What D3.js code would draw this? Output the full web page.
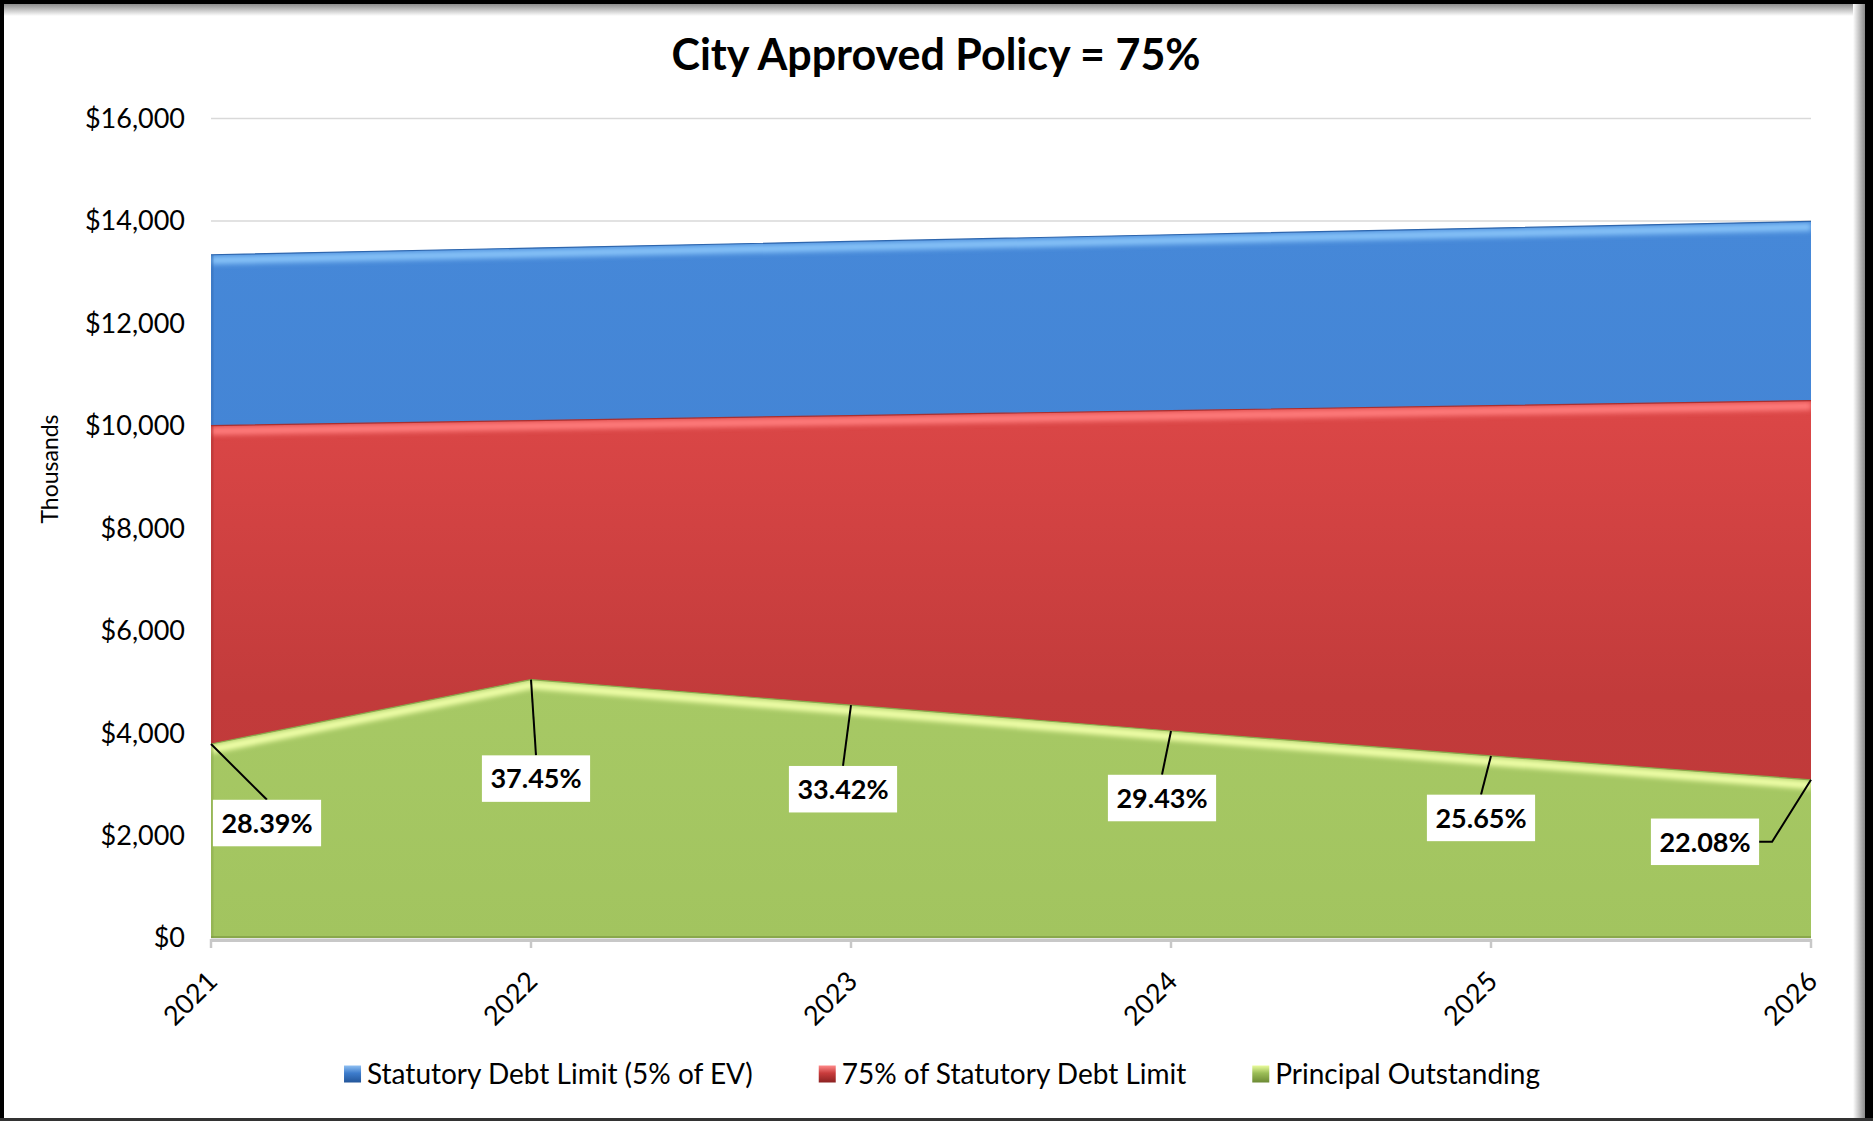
<!DOCTYPE html>
<html>
<head>
<meta charset="utf-8">
<script src="https://cdn.jsdelivr.net/npm/d3@7"></script>
<style>
  body { margin: 0; background: #fff; }
  svg { display: block; font-family: Lato, "Open Sans", sans-serif; }
</style>
</head>
<body>
<div id="chart"></div>
<script>
// values in thousands of dollars
const years = ["2021", "2022", "2023", "2024", "2025", "2026"];
const statutoryLimit = [13340, 13470, 13600, 13730, 13860, 13990];
const policyLimit = [10005, 10103, 10200, 10298, 10395, 10493];
const principal = [3787, 5045, 4545, 4041, 3555, 3089];
const pctLabels = ["28.39%", "37.45%", "33.42%", "29.43%", "25.65%", "22.08%"];
const seriesNames = ["Statutory Debt Limit (5% of EV)", "75% of Statutory Debt Limit", "Principal Outstanding"];
const yTicks = [0, 2000, 4000, 6000, 8000, 10000, 12000, 14000, 16000];

// where each % label box sits relative to its point (layout only)
const labelOffsets = [[56, 79], [5, 99], [-8, 84], [-9, 67], [-10, 62], [-106, 62]];

const W = 1873, H = 1121;
const margin = { top: 118.5, right: 62, bottom: 183, left: 211 };
const width = W - margin.left - margin.right;
const height = H - margin.top - margin.bottom;

const svg = d3.select("#chart").append("svg")
  .attr("width", W)
  .attr("height", H);

const defs = svg.append("defs");

function vGrad(id, stops, horizontal) {
  const g = defs.append("linearGradient").attr("id", id)
    .attr("x1", 0).attr("y1", 0)
    .attr("x2", horizontal ? 1 : 0).attr("y2", horizontal ? 0 : 1);
  stops.forEach(s => g.append("stop").attr("offset", s[0]).attr("stop-color", s[1]));
}

vGrad("fillBlue", [[0, "#4688d8"], [1, "#3f7ecf"]]);
vGrad("fillRed", [[0, "#dc4747"], [0.55, "#c23b3b"], [1, "#bd3838"]]);
vGrad("fillGreen", [[0, "#a7c965"], [1, "#a2c45f"]]);
vGrad("legBlue", [[0, "#8fc0f2"], [0.45, "#3d7ccc"], [1, "#23569a"]]);
vGrad("legRed", [[0, "#ff8a8a"], [0.45, "#c83c3c"], [1, "#8c2222"]]);
vGrad("legGreen", [[0, "#eafc9c"], [0.45, "#9bbd57"], [1, "#6c8a34"]]);
vGrad("frameTop", [[0, "#8c8c8c"], [1, "#ffffff"]]);
vGrad("frameRight", [[0, "#ffffff"], [1, "#8a8a8a"]], true);

defs.append("filter").attr("id", "soft")
  .attr("x", "-5%").attr("y", "-50%").attr("width", "110%").attr("height", "200%")
  .append("feGaussianBlur").attr("stdDeviation", 2.4);

const g = svg.append("g")
  .attr("transform", `translate(${margin.left},${margin.top})`);

const x = d3.scalePoint().domain(years).range([0, width]);
const y = d3.scaleLinear().domain([0, 16000]).range([height, 0]);

// gridlines
g.append("g").selectAll("line")
  .data(yTicks)
  .enter().append("line")
  .attr("x1", 0).attr("x2", width)
  .attr("y1", d => y(d)).attr("y2", d => y(d))
  .attr("stroke", "#d9d9d9")
  .attr("stroke-width", 1.5);

// y labels
g.append("g").selectAll("text")
  .data(yTicks)
  .enter().append("text")
  .attr("x", -26)
  .attr("y", d => y(d))
  .attr("dy", "0.35em")
  .attr("text-anchor", "end")
  .style("font-size", "27px")
  .attr("fill", "#000")
  .text(d => d3.format("$,")(d));

// x axis line + ticks
g.append("line")
  .attr("x1", 0).attr("x2", width)
  .attr("y1", height + 2.5).attr("y2", height + 2.5)
  .attr("stroke", "#c8c8c8").attr("stroke-width", 3);
g.append("g").selectAll("line")
  .data(years)
  .enter().append("line")
  .attr("x1", d => x(d)).attr("x2", d => x(d))
  .attr("y1", height + 1).attr("y2", height + 10)
  .attr("stroke", "#c8c8c8").attr("stroke-width", 2.5);

// x labels
g.append("g").selectAll("text")
  .data(years)
  .enter().append("text")
  .attr("text-anchor", "end")
  .attr("transform", d => `translate(${x(d) + 8},${height + 45}) rotate(-45)`)
  .style("font-size", "27px")
  .text(d => d);

// areas (overlapping, each from zero)
const series = [
  { values: statutoryLimit, fill: "url(#fillBlue)", hi: "#86c2f8", edge: "#2e66ad", dark: "#2c5f9f" },
  { values: policyLimit, fill: "url(#fillRed)", hi: "#ff7d7d", edge: "#a83030", dark: "#8f2828" },
  { values: principal, fill: "url(#fillGreen)", hi: "#f0ffa8", edge: "#8aa84c", dark: "#7a9640" }
];

const area = d3.area()
  .x((d, i) => x(years[i]))
  .y0(height)
  .y1(d => y(d));
const topLine = d3.line()
  .x((d, i) => x(years[i]))
  .y(d => y(d));

series.forEach((s, k) => {
  const clipId = "clip" + k;
  defs.append("clipPath").attr("id", clipId)
    .append("path").attr("d", area(s.values));

  const sg = g.append("g");
  sg.append("path")
    .attr("d", area(s.values))
    .attr("fill", s.fill);

  const inner = sg.append("g").attr("clip-path", `url(#${clipId})`);
  // bevel highlight under the top edge
  inner.append("path")
    .attr("d", topLine(s.values))
    .attr("transform", "translate(0,5.5)")
    .attr("fill", "none")
    .attr("stroke", s.hi)
    .attr("stroke-width", 8)
    .attr("filter", "url(#soft)");
  // darker right side
  inner.append("line")
    .attr("x1", width).attr("x2", width)
    .attr("y1", y(s.values[s.values.length - 1])).attr("y2", height)
    .attr("stroke", s.dark)
    .attr("stroke-width", 9)
    .attr("opacity", 0.6)
    .attr("filter", "url(#soft)");
  // slightly darker left side
  inner.append("line")
    .attr("x1", 0).attr("x2", 0)
    .attr("y1", y(s.values[0])).attr("y2", height)
    .attr("stroke", s.dark)
    .attr("stroke-width", 5)
    .attr("opacity", 0.3);
  // darker bottom
  inner.append("line")
    .attr("x1", 0).attr("x2", width)
    .attr("y1", height).attr("y2", height)
    .attr("stroke", s.dark)
    .attr("stroke-width", 4)
    .attr("opacity", 0.6);

  sg.append("path")
    .attr("d", topLine(s.values))
    .attr("fill", "none")
    .attr("stroke", s.edge)
    .attr("stroke-width", 1.2);
});

// % labels with leader lines
const labelG = g.append("g");
pctLabels.forEach((lab, i) => {
  const px = x(years[i]), py = y(principal[i]);
  const cx = px + labelOffsets[i][0], cy = py + labelOffsets[i][1];
  const lg = labelG.append("g");
  const t = lg.append("text")
    .attr("x", cx).attr("y", cy)
    .attr("dy", "0.36em")
    .attr("text-anchor", "middle")
    .style("font-size", "27px")
    .style("font-weight", "bold")
    .text(lab);
  const bw = t.node().getComputedTextLength() + 17;
  const bh = 46.5;
  lg.insert("rect", "text")
    .attr("x", cx - bw / 2).attr("y", cy - bh / 2)
    .attr("width", bw).attr("height", bh)
    .attr("fill", "#fff");
  let pts;
  if (Math.abs(labelOffsets[i][0]) < bw * 0.75) {
    pts = [[px, py], [cx, cy - bh / 2]];
  } else {
    const edgeX = cx + bw / 2;
    pts = [[px, py], [edgeX + 13, cy], [edgeX, cy]];
  }
  lg.insert("path", "rect")
    .attr("d", d3.line()(pts))
    .attr("fill", "none")
    .attr("stroke", "#000")
    .attr("stroke-width", 2);
});

// y axis title
svg.append("text")
  .attr("transform", `translate(58,469) rotate(-90)`)
  .attr("text-anchor", "middle")
  .style("font-size", "23px")
  .text("Thousands");

// title
svg.append("text")
  .attr("x", 936).attr("y", 70)
  .attr("text-anchor", "middle")
  .style("font-size", "43px")
  .style("font-weight", "bold")
  .text("City Approved Policy = 75%");

// legend
const legendFills = ["url(#legBlue)", "url(#legRed)", "url(#legGreen)"];
const legend = svg.append("g");
let lx = 0;
seriesNames.forEach((name, i) => {
  const item = legend.append("g").attr("transform", `translate(${lx},0)`);
  item.append("rect")
    .attr("x", 0).attr("y", -8.5)
    .attr("width", 17).attr("height", 17)
    .attr("fill", legendFills[i]);
  const t = item.append("text")
    .attr("x", 23).attr("y", 0)
    .attr("dy", "0.35em")
    .style("font-size", "28px")
    .text(name);
  lx += 23 + t.node().getComputedTextLength() + 66;
});
const legendW = lx - 66;
legend.attr("transform", `translate(${942 - legendW / 2},1074)`);

// outer frame
svg.append("rect").attr("x", 0).attr("y", 4).attr("width", W).attr("height", 12).attr("fill", "url(#frameTop)");
svg.append("rect").attr("x", 1853).attr("y", 0).attr("width", 12).attr("height", H).attr("fill", "url(#frameRight)");
svg.append("rect").attr("x", 0).attr("y", 0).attr("width", W).attr("height", 4).attr("fill", "#000");
svg.append("rect").attr("x", 0).attr("y", 0).attr("width", 4).attr("height", H).attr("fill", "#000");
svg.append("rect").attr("x", 1865).attr("y", 0).attr("width", 8).attr("height", H).attr("fill", "#000");
svg.append("rect").attr("x", 0).attr("y", 1118).attr("width", W).attr("height", 3).attr("fill", "#333");
</script>
</body>
</html>
